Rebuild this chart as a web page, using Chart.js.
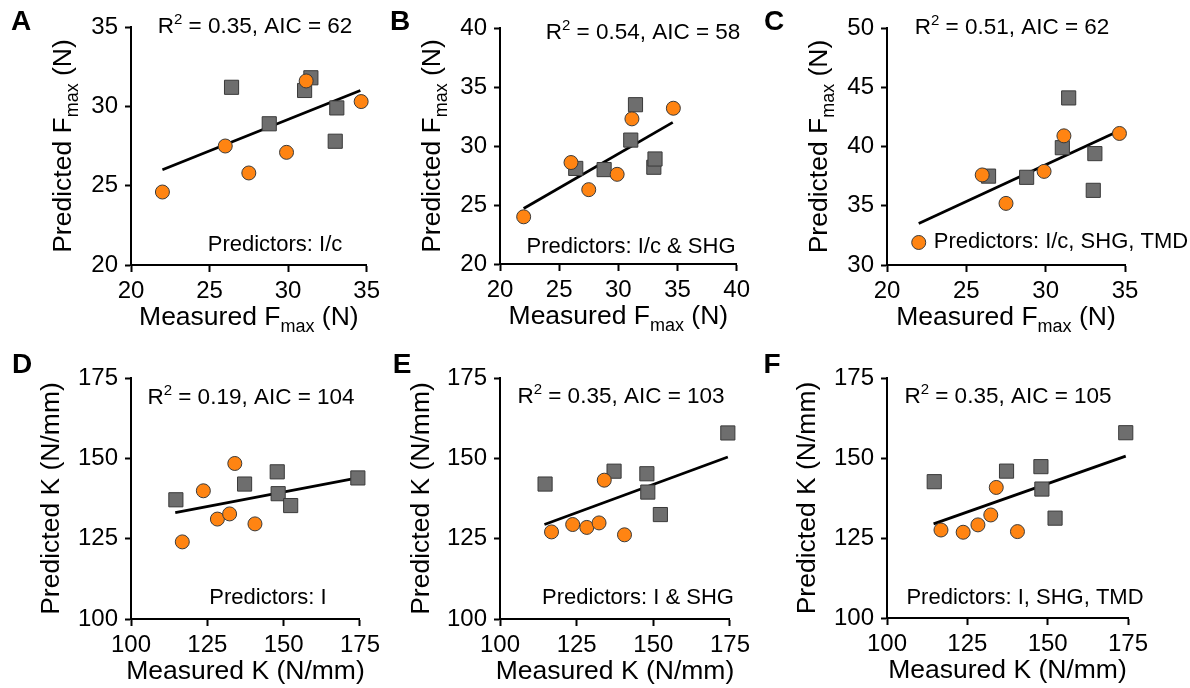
<!DOCTYPE html>
<html lang="en">
<head>
<meta charset="UTF-8" />
<title>Predicted vs measured Fmax and K</title>
<style>
  body { margin: 0; background: #fff; }
  #wrap { position: relative; width: 1190px; height: 688px; overflow: hidden; background: #fff; }
  canvas { position: absolute; }
</style>
</head>
<body>
<div id="wrap"></div>

<script src="https://cdn.jsdelivr.net/npm/chart.js"></script>
<script>
  // measured Fmax (N), shared by panels A-C
  const fmaxMeasOrange = [22.0, 26.0, 27.5, 29.9, 31.15, 34.65];
  const fmaxMeasGray = [26.4, 28.8, 31.05, 31.45, 33.0, 33.1];
  // predicted Fmax (N)
  const fmaxPredOrangeA = [24.6, 27.5, 25.8, 27.1, 31.6, 30.3];
  const fmaxPredGrayA = [31.2, 28.9, 31.0, 31.8, 27.8, 29.9];
  const fmaxPredOrangeB = [24.0, 28.6, 26.3, 27.6, 32.3, 33.2];
  const fmaxPredGrayB = [28.1, 28.0, 30.5, 33.5, 28.2, 28.9];
  const fmaxPredOrangeC = [31.9, 37.6, 35.2, 37.9, 40.9, 41.1];
  const fmaxPredGrayC = [37.5, 37.4, 39.9, 44.1, 36.3, 39.4];
  // regression lines
  const fmaxFitX = [22.0, 34.6];
  const fmaxFitA = [26.0, 31.0];
  const fmaxFitB = [24.7, 32.0];
  const fmaxFitC = [33.5, 41.3];

  // measured K (N/mm), shared by panels D-F
  const kMeasOrange = [116.8, 123.7, 128.3, 132.3, 134.0, 140.6];
  const kMeasGray = [114.7, 137.2, 147.9, 148.2, 152.3, 174.3];
  // predicted K (N/mm)
  const kPredOrangeD = [124.0, 139.9, 131.1, 132.7, 148.4, 129.6];
  const kPredGrayD = [137.1, 142.0, 145.8, 139.0, 135.3, 143.9];
  const kPredOrangeE = [127.1, 129.4, 128.5, 129.9, 143.2, 126.2];
  const kPredGrayE = [142.0, 146.0, 145.2, 139.5, 132.5, 157.9];
  const kPredOrangeF = [127.5, 126.8, 129.1, 132.2, 140.8, 127.0];
  const kPredGrayF = [142.6, 145.9, 147.3, 140.3, 131.2, 157.9];
  const kFitX = [114.5, 174.3];
  const kFitD = [133.1, 143.9];
  const kFitE = [129.4, 150.4];
  const kFitF = [129.4, 150.6];

  // axis ranges [min, max, step]
  const fmaxAxisX = [20, 35, 5];
  const fmaxAxisXB = [20, 40, 5];
  const fmaxAxisYA = [20, 35, 5];
  const fmaxAxisYB = [20, 40, 5];
  const fmaxAxisYC = [30, 50, 5];
  const kAxis = [100, 175, 25];

  // texts
  const fmaxXTitle = [["Measured F"], ["max", "sub"], [" (N)"]];
  const fmaxYTitle = [["Predicted F"], ["max", "sub"], [" (N)"]];
  const kXTitle = [["Measured K (N/mm)"]];
  const kYTitle = [["Predicted K (N/mm)"]];
  const fitStats = ["0.35|62", "0.54|58", "0.51|62", "0.19|104", "0.35|103", "0.35|105"];
  const predictorLabels = ["Predictors: I/c", "Predictors: I/c & SHG", "Predictors: I/c, SHG, TMD",
                           "Predictors: I", "Predictors: I & SHG", "Predictors: I, SHG, TMD"];

  const FONT = '"Liberation Sans", Arial, sans-serif';
  const ORANGE = "#ff8412";
  const GRAY = "#6e6e6e";

  function zip(xs, ys) { return xs.map((x, i) => ({ x: x, y: ys[i] })); }

  // draws a line of text with sub/superscript parts, centred on (cx, cy)
  function drawRich(ctx, parts, cx, cy, size) {
    const items = parts.map(([t, k]) => {
      const sz = k ? Math.round(size * 0.68) : size;
      ctx.font = sz + "px " + FONT;
      const dy = k === "sub" ? size * 0.34 : (k === "sup" ? -size * 0.3 : 0);
      return { t: t, sz: sz, w: ctx.measureText(t).width, dy: dy };
    });
    let x = cx - items.reduce((s, it) => s + it.w, 0) / 2;
    ctx.textAlign = "left";
    ctx.textBaseline = "middle";
    items.forEach(it => {
      ctx.font = it.sz + "px " + FONT;
      ctx.fillText(it.t, x, cy + it.dy);
      x += it.w;
    });
  }

  const panelText = {
    id: "panelText",
    afterDraw(chart, args, o) {
      const ctx = chart.ctx, a = chart.chartArea;
      ctx.save();
      ctx.fillStyle = "#000";
      ctx.font = "bold 28px " + FONT;
      ctx.textAlign = "center";
      ctx.textBaseline = "middle";
      ctx.fillText(o.letter, o.letterX, o.letterY);

      drawRich(ctx, o.xTitle, (a.left + a.right) / 2, a.bottom + 53, 26.5);

      const st = o.stats.split("|");
      drawRich(ctx, [["R"], ["2", "sup"], [" = " + st[0] + ", AIC = " + st[1]]],
               a.left + o.statsPos[0], a.top + o.statsPos[1], 22.5);
      drawRich(ctx, [[o.predictors]], a.left + o.predPos[0], a.top + o.predPos[1], 22);

      ctx.translate(a.left + o.yTitleDx, (a.top + a.bottom) / 2);
      ctx.rotate(-Math.PI / 2);
      drawRich(ctx, o.yTitle, 0, 0, 26.5);
      ctx.restore();
    }
  };

  function axis(range, fitSize, isX) {
    return {
      type: "linear",
      min: range[0], max: range[1],
      offset: false,
      ticks: { stepSize: range[2], color: "#000", padding: isX ? 5 : 7,
               font: { family: FONT, size: 24 } },
      grid: { drawOnChartArea: false, drawTicks: true, tickLength: isX ? 7 : 6,
              tickWidth: 2, tickColor: "#000" },
      border: { display: true, color: "#000", width: 2 },
      afterFit: s => { if (isX) s.height = fitSize; else s.width = fitSize; }
    };
  }

  const panels = [
    { letter: "A", left: 0, top: 0, w: 385, h: 340, pad: [131, 27, 15, 75], lx: 21, ly: 22,
      xo: fmaxMeasOrange, yo: fmaxPredOrangeA, xg: fmaxMeasGray, yg: fmaxPredGrayA, fx: fmaxFitX, fy: fmaxFitA,
      xr: fmaxAxisX, yr: fmaxAxisYA, xt: fmaxXTitle, yt: fmaxYTitle, ydx: -67, sp: [124, 0], pp: [144, 218] },
    { letter: "B", left: 385, top: 0, w: 370, h: 340, pad: [115, 28, 17, 76], lx: 15, ly: 22,
      xo: fmaxMeasOrange, yo: fmaxPredOrangeB, xg: fmaxMeasGray, yg: fmaxPredGrayB, fx: fmaxFitX, fy: fmaxFitB,
      xr: fmaxAxisXB, yr: fmaxAxisYB, xt: fmaxXTitle, yt: fmaxYTitle, ydx: -67, sp: [143, 5], pp: [131, 219] },
    { letter: "C", left: 755, top: 0, w: 435, h: 340, pad: [132, 28, 65, 75], lx: 19, ly: 22,
      xo: fmaxMeasOrange, yo: fmaxPredOrangeC, xg: fmaxMeasGray, yg: fmaxPredGrayC, fx: fmaxFitX, fy: fmaxFitC,
      xr: fmaxAxisX, yr: fmaxAxisYC, xt: fmaxXTitle, yt: fmaxYTitle, ydx: -67, sp: [125, 0], pp: [174, 214] },
    { letter: "D", left: 0, top: 340, w: 385, h: 348, pad: [131, 38, 13, 69], lx: 22, ly: 25,
      xo: kMeasOrange, yo: kPredOrangeD, xg: kMeasGray, yg: kPredGrayD, fx: kFitX, fy: kFitD,
      xr: kAxis, yr: kAxis, xt: kXTitle, yt: kYTitle, ydx: -79, sp: [120, 20], pp: [137, 220] },
    { letter: "E", left: 385, top: 340, w: 370, h: 348, pad: [115, 38, 14, 69], lx: 17, ly: 25,
      xo: kMeasOrange, yo: kPredOrangeE, xg: kMeasGray, yg: kPredGrayE, fx: kFitX, fy: kFitE,
      xr: kAxis, yr: kAxis, xt: kXTitle, yt: kYTitle, ydx: -78, sp: [121, 19], pp: [138, 220] },
    { letter: "F", left: 755, top: 340, w: 435, h: 348, pad: [132, 38, 62, 70], lx: 17, ly: 25,
      xo: kMeasOrange, yo: kPredOrangeF, xg: kMeasGray, yg: kPredGrayF, fx: kFitX, fy: kFitF,
      xr: kAxis, yr: kAxis, xt: kXTitle, yt: kYTitle, ydx: -79, sp: [121, 19], pp: [138, 220] }
  ];

  const wrap = document.getElementById("wrap");

  panels.forEach((p, i) => {
    const c = document.createElement("canvas");
    c.width = p.w; c.height = p.h;
    c.style.left = p.left + "px"; c.style.top = p.top + "px";
    wrap.appendChild(c);

    new Chart(c, {
      type: "scatter",
      data: {
        datasets: [
          { data: zip(p.xo, p.yo), pointStyle: "circle", pointRadius: 7,
            backgroundColor: ORANGE, borderColor: "#3a3a3a", borderWidth: 1, clip: false },
          { data: zip(p.xg, p.yg), pointStyle: "rect", pointRadius: 10,
            backgroundColor: GRAY, borderColor: "#3a3a3a", borderWidth: 1, clip: false },
          { data: zip(p.fx, p.fy), showLine: true, borderColor: "#000", borderWidth: 2.8,
            pointRadius: 0, fill: false, clip: false }
        ]
      },
      options: {
        responsive: false,
        animation: false,
        events: [],
        layout: { padding: { left: 0, top: p.pad[1], right: p.pad[2], bottom: 0 } },
        plugins: {
          legend: { display: false },
          tooltip: { enabled: false },
          panelText: {
            letter: p.letter, letterX: p.lx, letterY: p.ly,
            xTitle: p.xt, yTitle: p.yt, yTitleDx: p.ydx,
            stats: fitStats[i], statsPos: p.sp,
            predictors: predictorLabels[i], predPos: p.pp
          }
        },
        scales: {
          x: axis(p.xr, p.pad[3], true),
          y: axis(p.yr, p.pad[0], false)
        }
      },
      plugins: [panelText]
    });
  });
</script>
</body>
</html>
